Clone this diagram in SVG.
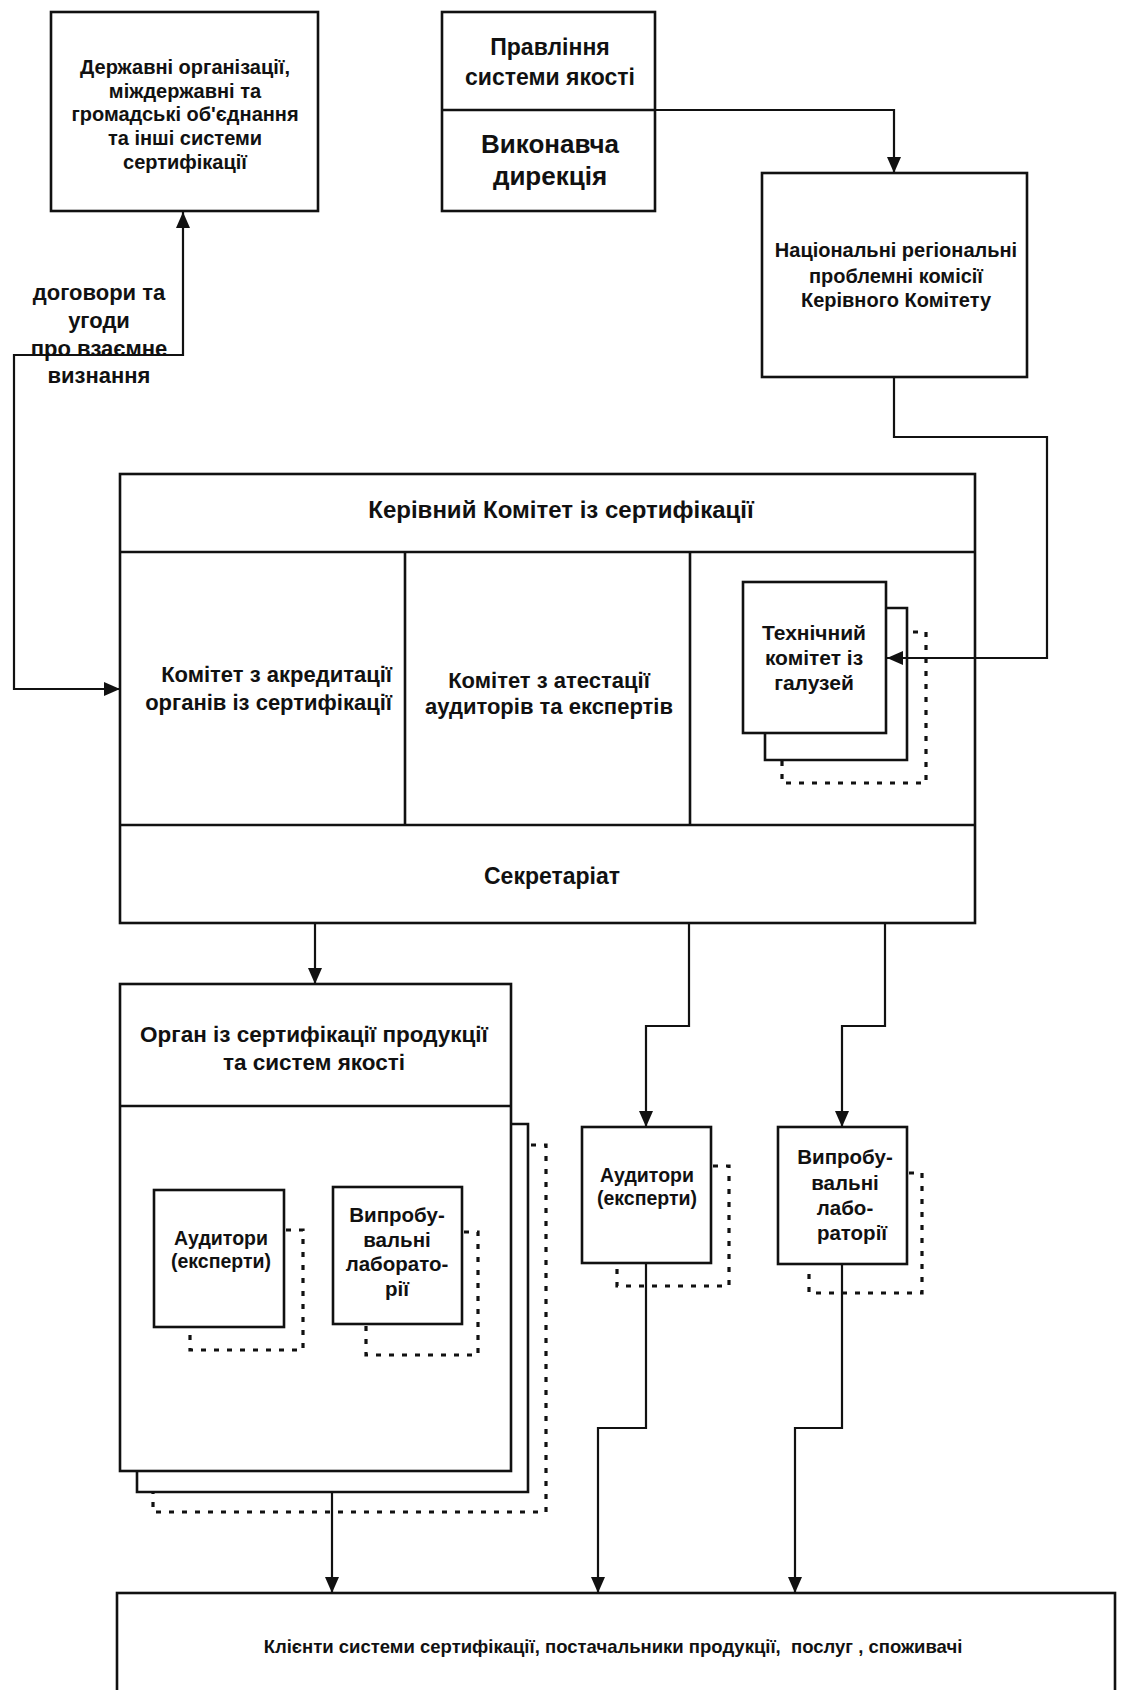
<svg xmlns="http://www.w3.org/2000/svg" width="1122" height="1690" viewBox="0 0 1122 1690">
<style>
  .box { fill: #fff; stroke: #111; stroke-width: 2.6; }
  .ln { fill: none; stroke: #111; stroke-width: 2.6; }
  .shadow { fill: none; stroke: #111; stroke-width: 2.6; }
  .dot { fill: none; stroke: #111; stroke-width: 3.2; stroke-dasharray: 5 8; }
  .conn { fill: none; stroke: #111; stroke-width: 2.2; }
  text { font-family: "Liberation Sans", Arial, sans-serif; font-weight: bold; fill: #111; text-anchor: middle; }
</style>
<defs>
  <marker id="arr" markerUnits="userSpaceOnUse" markerWidth="16" markerHeight="16" viewBox="0 0 16 14" refX="16" refY="7" orient="auto-start-reverse">
    <path d="M0,0 L16,7 L0,14 Z" fill="#111"/>
  </marker>
</defs>
<rect width="1122" height="1690" fill="#fff"/>

<g id="state-orgs">
  <rect class="box" x="51" y="12" width="267" height="199"/>
  <text font-size="20" x="185" y="74">Державні організації,</text>
  <text font-size="20" x="185" y="98">міждержавні та</text>
  <text font-size="20" x="185" y="121">громадські об'єднання</text>
  <text font-size="20" x="185" y="145">та інші системи</text>
  <text font-size="20" x="185" y="169">сертифікації</text>
</g>

<g id="agreements-label">
  <text font-size="22" x="99" y="300">договори та</text>
  <text font-size="22" x="99" y="328">угоди</text>
  <text font-size="22" x="99" y="356">про взаємне</text>
  <text font-size="22" x="99" y="383">визнання</text>
</g>

<g id="board">
  <rect class="box" x="442" y="12" width="213" height="199"/>
  <line class="ln" x1="442" y1="110" x2="655" y2="110"/>
  <text font-size="23" x="550" y="55">Правління</text>
  <text font-size="23" x="550" y="85">системи якості</text>
  <text font-size="26" x="550" y="153">Виконавча</text>
  <text font-size="26" x="550" y="185">дирекція</text>
</g>

<g id="national-commissions">
  <rect class="box" x="762" y="173" width="265" height="204"/>
  <text font-size="20" x="896" y="257">Національні регіональні</text>
  <text font-size="20" x="896" y="283">проблемні комісії</text>
  <text font-size="20" x="896" y="307">Керівного Комітету</text>
</g>

<g id="steering-committee">
  <rect class="box" x="120" y="474" width="855" height="449"/>
  <line class="ln" x1="120" y1="552" x2="975" y2="552"/>
  <line class="ln" x1="120" y1="825" x2="975" y2="825"/>
  <line class="ln" x1="405" y1="552" x2="405" y2="825"/>
  <line class="ln" x1="690" y1="552" x2="690" y2="825"/>
  <text font-size="24" x="561" y="518">Керівний Комітет із сертифікації</text>
  <text font-size="22" x="392" y="682" style="text-anchor:end">Комітет з акредитації</text>
  <text font-size="22" x="392" y="710" style="text-anchor:end">органів із сертифікації</text>
  <text font-size="22" x="549" y="688">Комітет з атестації</text>
  <text font-size="22" x="549" y="714">аудиторів та експертів</text>
  <text font-size="23" x="552" y="884">Секретаріат</text>
</g>

<g id="technical-committee">
  <path class="dot" d="M913,632 L926,632 L926,783 L782,783 L782,760"/>
  <path class="shadow" d="M886,608 L907,608 L907,760 L765,760 L765,733"/>
  <rect class="box" x="743" y="582" width="143" height="151"/>
  <text font-size="21" x="814" y="640">Технічний</text>
  <text font-size="21" x="814" y="665">комітет із</text>
  <text font-size="21" x="814" y="690">галузей</text>
</g>

<g id="certification-body">
  <path class="dot" d="M531,1145 L546,1145 L546,1512 L153,1512 L153,1492"/>
  <path class="shadow" d="M511,1124 L528,1124 L528,1492 L137,1492 L137,1471"/>
  <rect class="box" x="120" y="984" width="391" height="487"/>
  <line class="ln" x1="120" y1="1106" x2="511" y2="1106"/>
  <text font-size="22.5" x="314" y="1042">Орган із сертифікації продукції</text>
  <text font-size="22.5" x="314" y="1070">та систем якості</text>
</g>

<g id="inner-auditors">
  <path class="dot" d="M286,1230 L303,1230 L303,1350 L190,1350 L190,1329"/>
  <rect class="box" x="154" y="1190" width="130" height="137"/>
  <text font-size="19.5" x="221" y="1245">Аудитори</text>
  <text font-size="19.5" x="221" y="1268">(експерти)</text>
</g>

<g id="inner-labs">
  <path class="dot" d="M464,1232 L478,1232 L478,1355 L366,1355 L366,1326"/>
  <rect class="box" x="333" y="1187" width="129" height="137"/>
  <text font-size="20.5" x="397" y="1222">Випробу-</text>
  <text font-size="20.5" x="397" y="1247">вальні</text>
  <text font-size="20.5" x="397" y="1271">лаборато-</text>
  <text font-size="20.5" x="397" y="1296">рії</text>
</g>

<g id="auditors">
  <path class="dot" d="M713,1166 L729,1166 L729,1286 L617,1286 L617,1265"/>
  <rect class="box" x="582" y="1127" width="129" height="136"/>
  <text font-size="19.5" x="647" y="1182">Аудитори</text>
  <text font-size="19.5" x="647" y="1205">(експерти)</text>
</g>

<g id="labs">
  <path class="dot" d="M909,1173 L922,1173 L922,1293 L809,1293 L809,1266"/>
  <rect class="box" x="778" y="1127" width="129" height="137"/>
  <text font-size="20.5" x="845" y="1164">Випробу-</text>
  <text font-size="20.5" x="845" y="1190">вальні</text>
  <text font-size="20.5" x="845" y="1215">лабо-</text>
  <text font-size="20.5" x="852" y="1240">раторії</text>
</g>

<g id="clients">
  <rect class="box" x="117" y="1593" width="998" height="120"/>
  <text font-size="18.5" x="613" y="1653" xml:space="preserve">Клієнти системи сертифікації, постачальники продукції,  послуг , споживачі</text>
</g>

<g id="connectors">
  <path class="conn" d="M655,110 L894,110 L894,173" marker-end="url(#arr)"/>
  <path class="conn" d="M894,377 L894,437 L1047,437 L1047,658 L887,658" marker-end="url(#arr)"/>
  <path class="conn" d="M183,212 L183,355 L14,355 L14,689 L120,689" marker-start="url(#arr)" marker-end="url(#arr)"/>
  <path class="conn" d="M315,923 L315,984" marker-end="url(#arr)"/>
  <path class="conn" d="M689,923 L689,1026 L646,1026 L646,1127" marker-end="url(#arr)"/>
  <path class="conn" d="M885,923 L885,1026 L842,1026 L842,1127" marker-end="url(#arr)"/>
  <path class="conn" d="M332,1492 L332,1593" marker-end="url(#arr)"/>
  <path class="conn" d="M646,1263 L646,1428 L598,1428 L598,1593" marker-end="url(#arr)"/>
  <path class="conn" d="M842,1264 L842,1428 L795,1428 L795,1593" marker-end="url(#arr)"/>
</g>
</svg>
